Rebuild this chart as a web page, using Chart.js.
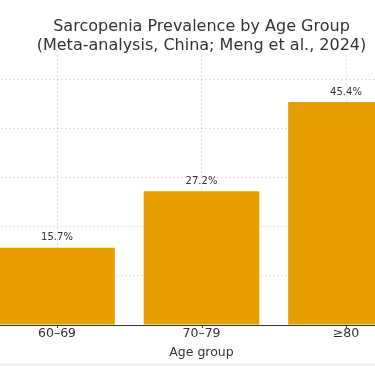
<!DOCTYPE html>
<html>
<head>
<meta charset="utf-8">
<script src="https://cdn.jsdelivr.net/npm/chart.js@4.4.1/dist/chart.umd.min.js"></script>
<style>
  html, body { margin: 0; padding: 0; background: #fff; overflow: hidden; }
  #wrap { position: absolute; left: -40px; top: 0; width: 500px; height: 366px; }
  #edge { position: absolute; left: 0; top: 363px; width: 375px; height: 3px; background: #f0f0f0; }
</style>
</head>
<body>
<div id="wrap"><canvas id="myChart"></canvas></div>
<div id="edge"></div>
<script>
const ageGroups = ['60–69', '70–79', '≥80'];
const prevalence = [15.7, 27.2, 45.4];
const yTicks = [0, 10, 20, 30, 40, 50];

// etiketter ovanför staplarna + små tickmarkeringar under x-axeln
const barLabels = {
    id: 'barLabels',
    afterDraw(chart) {
        const c = chart.ctx;
        const meta = chart.getDatasetMeta(0);
        const xs = chart.scales.x;
        c.save();
        c.strokeStyle = '#333';
        c.lineWidth = 1;
        xs.ticks.forEach((t, i) => {
            const px = Math.round(xs.getPixelForTick(i)) + 0.5;
            c.beginPath();
            c.moveTo(px, chart.chartArea.bottom);
            c.lineTo(px, chart.chartArea.bottom + 3);
            c.stroke();
        });
        c.font = '10px "DejaVu Sans"';
        c.fillStyle = '#333';
        c.textAlign = 'center';
        c.textBaseline = 'middle';
        meta.data.forEach((bar, i) => {
            c.fillText(prevalence[i].toFixed(1) + '%', bar.x, bar.y - 10);
        });
        c.restore();
    }
};

const gridColor = 'rgba(0,0,0,0.12)';

const ctx = document.getElementById('myChart');
new Chart(ctx, {
    type: 'bar',
    data: {
        labels: ageGroups,
        datasets: [{
            data: prevalence,
            backgroundColor: '#E69F00',
            barPercentage: 0.8,
            categoryPercentage: 1.0
        }]
    },
    options: {
        responsive: true,
        maintainAspectRatio: false,
        animation: false,
        layout: { padding: { left: 24.75, right: 41.75, top: 0, bottom: 6 } },
        plugins: {
            legend: { display: false },
            tooltip: { enabled: false },
            title: {
                display: true,
                text: ['Sarcopenia Prevalence by Age Group', '(Meta-analysis, China; Meng et al., 2024)'],
                color: '#333',
                font: { family: 'DejaVu Sans', size: 16, weight: 'normal', lineHeight: 1.15 },
                padding: { top: 18, bottom: 0 }
            }
        },
        scales: {
            x: {
                z: 1,
                grid: {
                    offset: false,
                    color: gridColor,
                    drawTicks: true,
                    tickLength: 1,
                    tickColor: 'rgba(0,0,0,0)'
                },
                border: { display: true, color: '#333', width: 1, dash: [2, 2] },
                ticks: {
                    color: '#333',
                    padding: 0,
                    font: { family: 'DejaVu Sans', size: 12.5 }
                },
                title: {
                    display: true,
                    text: 'Age group',
                    color: '#333',
                    font: { family: 'DejaVu Sans', size: 12.5 },
                    padding: { top: 4, bottom: 0 }
                }
            },
            y: {
                z: 1,
                min: 0,
                max: 55,
                afterBuildTicks(axis) {
                    axis.ticks = yTicks.map(v => ({ value: v }));
                },
                ticks: { display: false },
                border: { display: false, dash: [2, 2] },
                grid: { color: gridColor, drawTicks: false }
            }
        }
    },
    plugins: [barLabels]
});
</script>
</body>
</html>
